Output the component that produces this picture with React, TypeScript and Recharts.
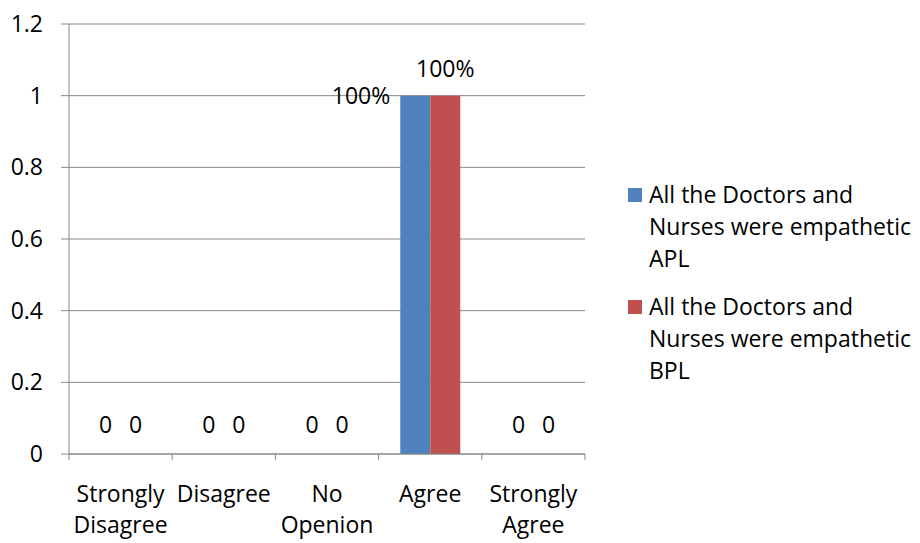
import React from 'react';
import {
  BarChart,
  Bar,
  XAxis,
  YAxis,
  CartesianGrid,
  Legend,
  LabelList,
  Rectangle,
} from 'recharts';

const categories = ['Strongly Disagree', 'Disagree', 'No Openion', 'Agree', 'Strongly Agree'];
const aplValues = [0, 0, 0, 1, 0];
const bplValues = [0, 0, 0, 1, 0];
const yTicks = [0, 0.2, 0.4, 0.6, 0.8, 1, 1.2];

const APL_NAME = 'All the Doctors and Nurses were empathetic APL';
const BPL_NAME = 'All the Doctors and Nurses were empathetic BPL';

const data = categories.map((c, i) => ({ name: c, apl: aplValues[i], bpl: bplValues[i] }));

const FONT = "'Open Sans', sans-serif";
const FS = 23;
const GRID = '#878787';
const W = 920;
const H = 543;
const MARGIN = { top: 24, right: 335, bottom: 29, left: 0 };
const Y_W = 69;
const BAND = (W - MARGIN.right - MARGIN.left - Y_W) / categories.length;

const fmt = (v: number) => (v === 0 ? '0' : `${Math.round(v * 100)}%`);

function CategoryTick(props: any) {
  const { x, y, payload, index } = props;
  const words = String(payload.value).split(' ');
  const last = index === categories.length - 1;
  return (
    <g>
      <line x1={x - BAND / 2} x2={x - BAND / 2} y1={y} y2={y + 6} stroke={GRID} />
      {last && <line x1={x + BAND / 2} x2={x + BAND / 2} y1={y} y2={y + 6} stroke={GRID} />}
      {words.map((w: string, i: number) => (
        <text key={i} x={x} y={y + 48 + i * 31} textAnchor="middle" fontFamily={FONT} fontSize={FS} fill="#000">
          {w}
        </text>
      ))}
    </g>
  );
}

// zero bars get a 1px minPointSize so their labels still render; the rect itself is hidden
const barShape = (key: string) => (p: any) =>
  p.payload && p.payload[key] === 0 ? <g /> : <Rectangle {...p} />;

function aplLabel(p: any) {
  const { x, y, width, value } = p;
  if (value === 0) {
    return (
      <text x={x + width / 2} y={y - 20} textAnchor="middle" fontFamily={FONT} fontSize={FS} fill="#000">
        {fmt(value)}
      </text>
    );
  }
  return (
    <text x={x - 10} y={y + 8} textAnchor="end" fontFamily={FONT} fontSize={FS} fill="#000">
      {fmt(value)}
    </text>
  );
}

function bplLabel(p: any) {
  const { x, y, width, value } = p;
  return (
    <text x={x + width / 2} y={y - (value === 0 ? 20 : 19)} textAnchor="middle" fontFamily={FONT} fontSize={FS} fill="#000">
      {fmt(value)}
    </text>
  );
}

function LegendBox(props: any) {
  const items = props.payload || [];
  return (
    <div style={{ fontFamily: FONT, fontSize: FS, lineHeight: '32px', color: '#000' }}>
      {items.map((it: any, i: number) => (
        <div key={i} style={{ display: 'flex', alignItems: 'flex-start', marginBottom: 16 }}>
          <span style={{ width: 14, height: 14, background: it.color, marginTop: 10, marginRight: 7, flex: 'none' }} />
          <span style={{ width: 272 }}>{it.value}</span>
        </div>
      ))}
    </div>
  );
}

export default function App() {
  return (
    <div style={{ position: 'absolute', left: 0, top: 0, width: W, height: H, background: '#fff' }}>
      <BarChart width={W} height={H} data={data} margin={MARGIN} barCategoryGap="21%" barGap={0}>
        <CartesianGrid vertical={false} stroke={GRID} />
        <XAxis
          dataKey="name"
          stroke={GRID}
          height={60}
          tickLine={false}
          tickSize={0}
          tickMargin={0}
          interval={0}
          tick={<CategoryTick />}
        />
        <YAxis
          width={Y_W}
          domain={[0, 1.2]}
          ticks={yTicks}
          stroke={GRID}
          tickSize={8}
          tickMargin={18}
          tickFormatter={(v: number) => String(+v.toFixed(1))}
          tick={{ fontFamily: FONT, fontSize: FS, fill: '#000' }}
        />
        <Legend
          layout="vertical"
          align="center"
          verticalAlign="middle"
          content={<LegendBox />}
          wrapperStyle={{ left: 628, top: 178, width: 292 }}
        />
        <Bar dataKey="apl" name={APL_NAME} fill="#4F81BD" minPointSize={1} shape={barShape('apl')} isAnimationActive={false}>
          <LabelList dataKey="apl" content={aplLabel} />
        </Bar>
        <Bar dataKey="bpl" name={BPL_NAME} fill="#C0504D" minPointSize={1} shape={barShape('bpl')} isAnimationActive={false}>
          <LabelList dataKey="bpl" content={bplLabel} />
        </Bar>
      </BarChart>
    </div>
  );
}
